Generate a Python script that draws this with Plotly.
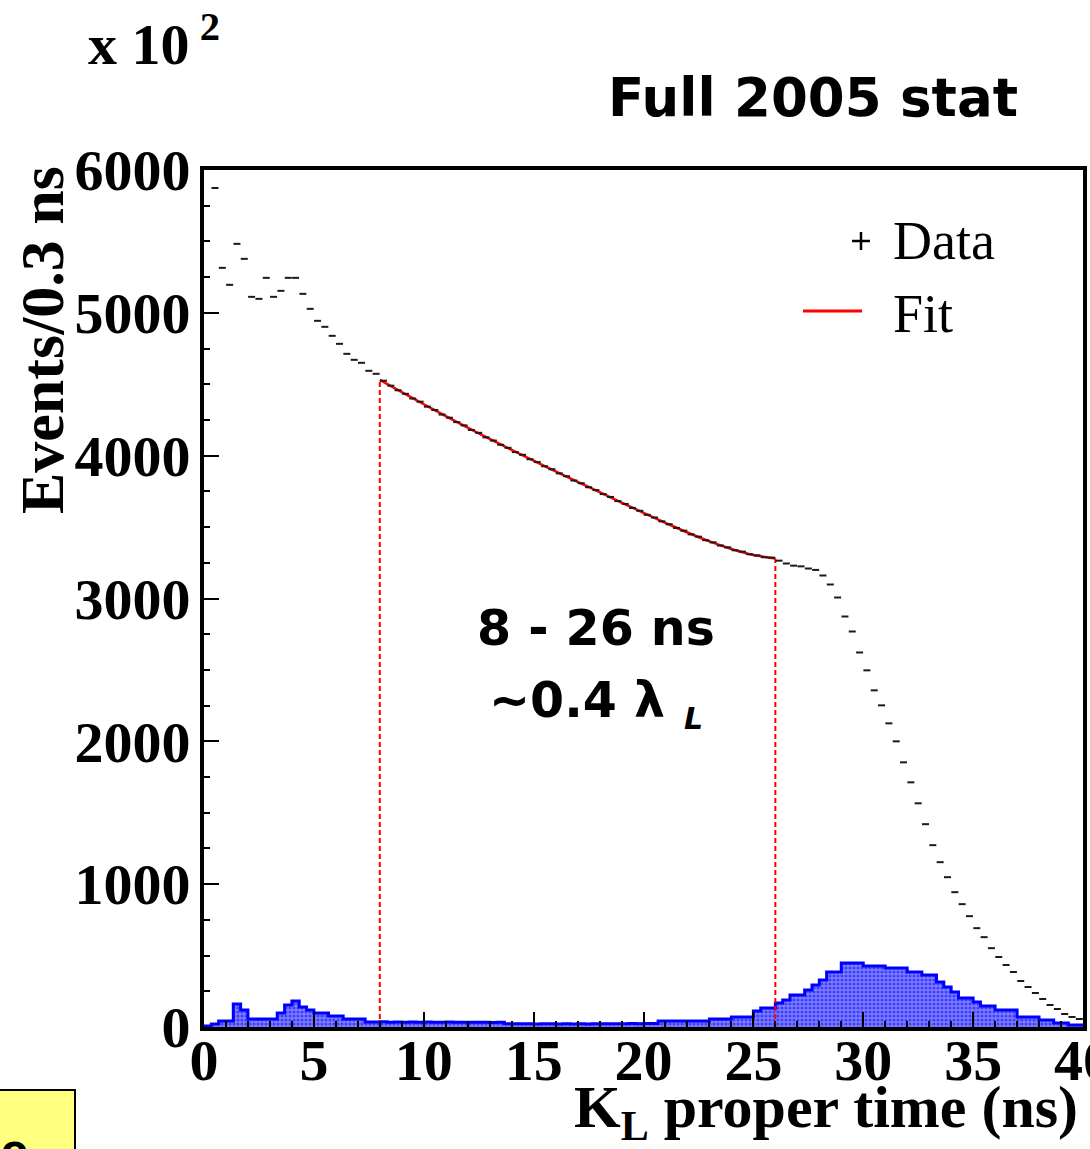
import numpy as np
import plotly.graph_objects as go

# ---------------- data ----------------
BIN_W = 1.0 / 3.0          # ns per bin (120 bins from 0 to 40 ns)
T_MIN, T_MAX = 0.0, 40.0

# Data: events per bin (x 10^2), bins 0..119 (None = not shown)
data_counts = [
    None, 5874, 5315, 5196, 5483, 5378, 5112, 5098, 5245, 5112,
    5154, 5245, 5245, 5133, 5028, 4944, 4902, 4839, 4783, 4713,
    4671, 4650, 4594, 4573, 4525, 4490, 4458, 4433, 4400, 4378,
    4343, 4320, 4288, 4266, 4235, 4212, 4180, 4160, 4128, 4106,
    4076, 4055, 4025, 4006, 3975, 3955, 3926, 3905, 3876, 3856,
    3826, 3807, 3779, 3759, 3731, 3711, 3682, 3662, 3634, 3614,
    3586, 3567, 3540, 3520, 3494, 3475, 3449, 3433, 3408, 3393,
    3371, 3358, 3338, 3328, 3310, 3302, 3289, 3286, 3265, 3245,
    3230, 3225, 3210, 3200, 3161, 3098, 3007, 2874, 2769, 2622,
    2497, 2357, 2252, 2126, 2000, 1853, 1713, 1566, 1420, 1273,
    1154, 1049, 944, 860, 776, 692, 629, 552, 490, 434,
    385, 322, 280, 238, 196, 154, 126, 91, 70, 56,
]

# Background (MC) histogram, same binning
bkg_counts = [
    7, 21, 42, 42, 161, 119, 56, 56, 56, 56,
    98, 154, 182, 140, 119, 98, 98, 77, 77, 56,
    56, 56, 35, 35, 36, 34, 35, 33, 35, 34,
    35, 33, 34, 35, 33, 34, 33, 34, 33, 32,
    33, 23, 22, 23, 22, 21, 22, 22, 21, 22,
    21, 22, 21, 22, 22, 23, 22, 23, 24, 23,
    25, 24, 42, 42, 42, 42, 42, 42, 42, 56,
    56, 56, 70, 70, 70, 112, 133, 133, 168, 189,
    224, 224, 259, 294, 329, 385, 385, 448, 448, 448,
    427, 427, 427, 413, 413, 413, 385, 385, 364, 364,
    315, 280, 245, 203, 203, 175, 147, 147, 119, 119,
    119, 70, 70, 70, 49, 49, 28, 28, 14, 14,
]

# Fit curve (8 - 26 ns)
fit_t = [8, 9, 10, 11, 12, 13, 14, 15, 16, 17, 18, 19, 20, 21, 22, 23, 24, 25, 26]
fit_v = [4531, 4445, 4360, 4277, 4196, 4117, 4040, 3965, 3890, 3817,
         3745, 3672, 3600, 3530, 3462, 3400, 3347, 3305, 3280]

x_tickvals = [0, 5, 10, 15, 20, 25, 30, 35, 40]
y_tickvals = [0, 1000, 2000, 3000, 4000, 5000, 6000]

# ---------------- geometry helpers (layout only) ----------------
W, H = 1090, 1149
L, R, T, B = 204, 1083, 170, 1027


def px(xp):
    return (xp - L) / (R - L)


def py(yp):
    return (B - yp) / (B - T)


n_bins = len(data_counts)
centers = T_MIN + (np.arange(n_bins) + 0.5) * BIN_W
edges = T_MIN + np.arange(n_bins + 1) * BIN_W

fig = go.Figure()

# background histogram (step, filled with pattern)
fig.add_trace(go.Scatter(
    x=edges, y=list(bkg_counts) + [bkg_counts[-1]],
    mode="lines", line=dict(shape="hv", color="#0000ff", width=3),
    fill="tozeroy", fillcolor="#6a6aff",
    fillpattern=dict(shape=".", fgcolor="#0000ff", bgcolor="#8080ff",
                     size=4, solidity=0.5),
    showlegend=False, hoverinfo="skip",
))

# dashed vertical lines at fit range limits
for tt, vv in [(fit_t[0], fit_v[0]), (fit_t[-1], fit_v[-1])]:
    fig.add_trace(go.Scatter(
        x=[tt, tt], y=[0, vv], mode="lines",
        line=dict(color="#ff0000", width=2, dash="5px,3px"),
        showlegend=False, hoverinfo="skip",
    ))

# fit
fig.add_trace(go.Scatter(
    x=fit_t, y=fit_v, mode="lines",
    line=dict(color="#ff0000", width=2.5, shape="spline", smoothing=0.8),
    showlegend=False,
))

# data points
fig.add_trace(go.Scatter(
    x=centers, y=data_counts, mode="markers",
    marker=dict(symbol="line-ew", size=5, line=dict(color="#1a1a1a", width=2)),
    showlegend=False,
))

serif = "Liberation Serif, Times New Roman, serif"
sans = "DejaVu Sans, sans-serif"

fig.update_layout(
    width=W, height=H,
    margin=dict(l=L, r=W - R, t=T, b=H - B, pad=0, autoexpand=False),
    paper_bgcolor="white", plot_bgcolor="white",
    showlegend=False,
    xaxis=dict(
        range=[T_MIN, T_MAX], tickvals=x_tickvals,
        ticktext=[str(v) for v in x_tickvals],
        ticks="inside", ticklen=15, tickwidth=2, tickcolor="black",
        minor=dict(dtick=1, ticks="inside", ticklen=6, tickwidth=2, tickcolor="black"),
        showline=True, linewidth=4, linecolor="black", mirror=True,
        showgrid=False, zeroline=False, automargin=False,
        tickfont=dict(family=serif, size=58, color="black", weight="bold"),
        ticklabeloverflow="allow", ticklabelstandoff=-21,
    ),
    yaxis=dict(
        range=[0, 6000], tickvals=y_tickvals,
        ticktext=[str(v) for v in y_tickvals],
        ticks="inside", ticklen=15, tickwidth=2, tickcolor="black",
        minor=dict(dtick=250, ticks="inside", ticklen=6, tickwidth=2, tickcolor="black"),
        showline=True, linewidth=4, linecolor="black", mirror=True,
        showgrid=False, zeroline=False, automargin=False,
        tickfont=dict(family=serif, size=58, color="black", weight="bold"),
        ticklabelstandoff=-2,
    ),
)

ann = []
# axis titles
ann.append(dict(x=px(42), y=py(340), xref="paper", yref="paper",
                text="Events/0.3 ns", textangle=-90, showarrow=False,
                font=dict(family=serif, size=62, color="black", weight="bold"),
                xanchor="center", yanchor="middle"))
ann.append(dict(x=px(1080), y=py(1111), xref="paper", yref="paper",
                text="K<sub>L</sub> proper time (ns)", showarrow=False,
                font=dict(family=serif, size=60, color="black", weight="bold"),
                xanchor="right", yanchor="middle"))
# multiplier
ann.append(dict(x=px(86), y=py(40), xref="paper", yref="paper",
                text="x 10<sup> 2</sup>", showarrow=False,
                font=dict(family=serif, size=58, color="black", weight="bold"),
                xanchor="left", yanchor="middle"))
# header
ann.append(dict(x=px(606), y=py(97), xref="paper", yref="paper",
                text="Full 2005 stat", showarrow=False,
                font=dict(family=sans, size=53, color="black", weight="bold"),
                xanchor="left", yanchor="middle"))
# range text
ann.append(dict(x=px(596), y=py(628), xref="paper", yref="paper",
                text="8 - 26 ns", showarrow=False,
                font=dict(family=sans, size=49, color="black", weight="bold"),
                xanchor="center", yanchor="middle"))
ann.append(dict(x=px(487), y=py(700), xref="paper", yref="paper",
                text="~0.4 λ", showarrow=False,
                font=dict(family=sans, size=49, color="black", weight="bold"),
                xanchor="left", yanchor="middle"))
ann.append(dict(x=px(682), y=py(718), xref="paper", yref="paper",
                text="<i>L</i>", showarrow=False,
                font=dict(family=sans, size=30, color="black", weight="bold"),
                xanchor="left", yanchor="middle"))
# legend text
ann.append(dict(x=px(891), y=py(241), xref="paper", yref="paper",
                text="Data", showarrow=False,
                font=dict(family=serif, size=54, color="black"),
                xanchor="left", yanchor="middle"))
ann.append(dict(x=px(891), y=py(314), xref="paper", yref="paper",
                text="Fit", showarrow=False,
                font=dict(family=serif, size=54, color="black"),
                xanchor="left", yanchor="middle"))
# clipped text inside the yellow box
ann.append(dict(x=px(14), y=py(1150), xref="paper", yref="paper",
                text="e", showarrow=False,
                font=dict(family=sans, size=40, color="black", weight="bold"),
                xanchor="center", yanchor="middle"))

shapes = []
# legend symbols
shapes.append(dict(type="line", xref="paper", yref="paper",
                   x0=px(852), x1=px(870), y0=py(241), y1=py(241),
                   line=dict(color="black", width=2.5)))
shapes.append(dict(type="line", xref="paper", yref="paper",
                   x0=px(861), x1=px(861), y0=py(232), y1=py(250),
                   line=dict(color="black", width=2.5)))
shapes.append(dict(type="line", xref="paper", yref="paper",
                   x0=px(803), x1=px(862), y0=py(311), y1=py(311),
                   line=dict(color="#ff0000", width=3)))
# yellow box bottom-left
shapes.append(dict(type="rect", xref="paper", yref="paper",
                   x0=px(-5), x1=px(75), y0=py(1160), y1=py(1090),
                   line=dict(color="black", width=2), fillcolor="#ffff80",
                   layer="below"))

fig.update_layout(annotations=ann, shapes=shapes)

fig.write_html("out.html")
